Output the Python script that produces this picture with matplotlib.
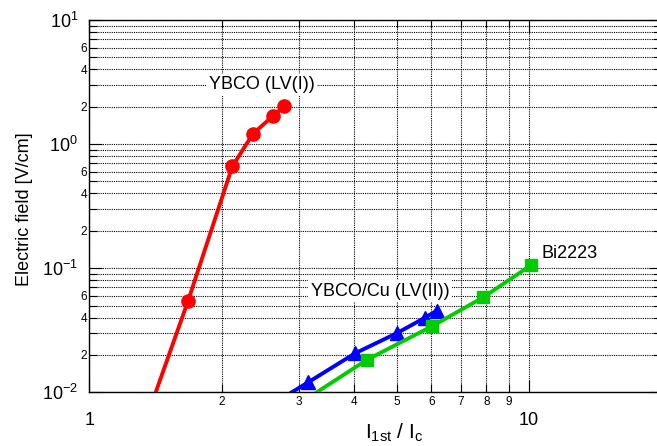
import matplotlib
matplotlib.use("Agg")
import matplotlib.pyplot as plt
from matplotlib.ticker import LogLocator, FuncFormatter
import numpy as np

plt.rcParams['font.family'] = ['Liberation Sans', 'DejaVu Sans']
plt.rcParams['mathtext.fontset'] = 'custom'
plt.rcParams['mathtext.rm'] = 'Liberation Sans'
plt.rcParams['mathtext.it'] = 'Liberation Sans:italic'

# YBCO (LV(I)) - first point sits on the bottom edge, no marker there
ybcoX = [1.416, 1.677, 2.115, 2.357, 2.62, 2.777]
ybcoY = [0.010, 0.0544, 0.662, 1.213, 1.69, 2.03]

# YBCO/Cu (LV(II))
ybcoCuX = [2.886, 3.148, 4.02, 5.0, 5.80, 6.17]
ybcoCuY = [0.010, 0.01205, 0.0206, 0.0299, 0.0399, 0.0455]

# Bi2223
biX = [3.29, 4.27, 6.03, 7.87, 10.1]
biY = [0.010, 0.0182, 0.0342, 0.0583, 0.1055]

fig = plt.figure(figsize=(6.57, 4.46), dpi=100)
ax = fig.add_axes([0.1359, 0.1204, 0.8708, 0.8348])

ax.plot(ybcoX, ybcoY, color="#ff0000", linewidth=2.8, marker='o', markersize=9.5,
        markevery=[1, 2, 3, 4, 5], zorder=3)
ax.plot(ybcoCuX, ybcoCuY, color="#0000ff", linewidth=2.8, marker='^', markersize=9.5,
        markevery=[1, 2, 3, 4, 5], zorder=3)
ax.plot(biX, biY, color="#00cc00", linewidth=2.8, marker='s', markersize=8.5,
        markevery=[1, 2, 3, 4], zorder=3)

ax.set_xscale("log")
ax.set_yscale("log")
ax.set_xlim(1, 20)
ax.set_ylim(0.01, 10)

ax.xaxis.set_major_locator(LogLocator(base=10, numticks=10))
ax.xaxis.set_minor_locator(LogLocator(base=10, subs=np.arange(2, 10), numticks=20))
ax.yaxis.set_major_locator(LogLocator(base=10, numticks=10))
ax.yaxis.set_minor_locator(LogLocator(base=10, subs=np.arange(2, 10), numticks=20))

ax.xaxis.set_major_formatter(FuncFormatter(lambda v, p: '%g' % v))
ax.xaxis.set_minor_formatter(FuncFormatter(lambda v, p: '%d' % round(v) if v < 10 else ''))
ax.yaxis.set_major_formatter(FuncFormatter(lambda v, p: r'$10^{%d}$' % round(np.log10(v))))


def yminor(v, p):
    m = v / 10 ** np.floor(np.log10(v) + 1e-9)
    m = int(round(m))
    return '%d' % m if m in (2, 4, 6) else ''


ax.yaxis.set_minor_formatter(FuncFormatter(yminor))

ax.tick_params(which='both', direction='in', top=True, right=True, width=0.8)
ax.tick_params(which='major', length=9, labelsize=13)
ax.tick_params(which='minor', length=6, labelsize=8.5)
ax.tick_params(axis='x', which='major', pad=14)
ax.tick_params(axis='x', which='minor', pad=3)
ax.tick_params(axis='y', which='major', pad=8)
ax.tick_params(axis='y', which='minor', pad=1.5)

ax.grid(True, which='both', linestyle=(0, (1, 1)), color='k', linewidth=0.8)
ax.set_axisbelow(True)
for s in ax.spines.values():
    s.set_linewidth(1.0)

ax.set_xlabel(r'$\mathrm{I_{1st}\ /\ I_{c}}$', fontsize=15)
ax.xaxis.set_label_coords(0.5326, -0.078)
ax.set_ylabel('Electric field [V/cm]', fontsize=13)
ax.yaxis.set_label_coords(-0.098, 0.492)

box = dict(facecolor='white', edgecolor='none', pad=2)
ax.text(2.466, 3.0, 'YBCO (LV(I))', fontsize=13, ha='center', va='center', bbox=box, zorder=2)
ax.text(4.58, 0.0655, 'YBCO/Cu (LV(II))', fontsize=13, ha='center', va='center', bbox=box, zorder=2)
ax.text(10.69, 0.1318, 'Bi2223', fontsize=13, ha='left', va='center', bbox=box, zorder=2)

plt.savefig("out.png", dpi=100)
